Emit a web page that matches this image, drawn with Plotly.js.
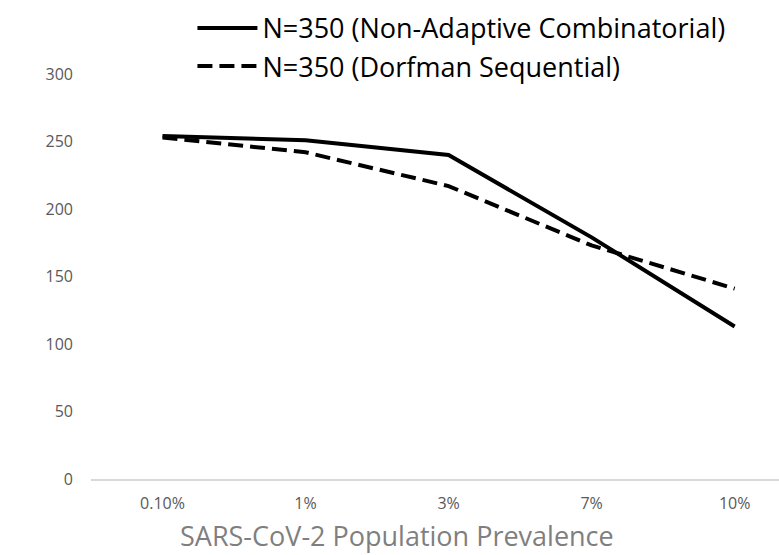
<!DOCTYPE html>
<html>
<head>
<meta charset="utf-8">
<script src="https://cdn.plot.ly/plotly-3.0.1.min.js"></script>
<style>html,body{margin:0;padding:0;background:#fff;}#chart{width:779px;height:555px;}</style>
</head>
<body>
<div id="chart"></div>
<script>
const categories = ["0.10%", "1%", "3%", "7%", "10%"];
const nonAdaptive = [254, 251, 240, 179, 113];
const dorfman = [253, 242, 217, 173, 141];
const seriesNames = ["N=350 (Non-Adaptive Combinatorial)", "N=350 (Dorfman Sequential)"];
const yTicks = [0, 50, 100, 150, 200, 250, 300];
const xTitle = "SARS-CoV-2 Population Prevalence";

const FONT = "'Open Sans', sans-serif";
const traces = [
  {x: categories, y: nonAdaptive, name: seriesNames[0], type: "scatter", mode: "lines",
   line: {color: "#000", width: 4}},
  {x: categories, y: dorfman, name: seriesNames[1], type: "scatter", mode: "lines",
   line: {color: "#000", width: 4, dash: "15px,7px"}}
];
const layout = {
  width: 779, height: 555,
  margin: {l: 90.5, r: 0, t: 74, b: 76, pad: 0, autoexpand: false},
  paper_bgcolor: "#fff", plot_bgcolor: "#fff",
  showlegend: true,
  legend: {x: (192-90.5)/688.5, xref: "paper", y: 0.993, yref: "container", xanchor: "left", yanchor: "top",
           font: {family: FONT, size: 27, color: "#000"}, itemwidth: 60, tracegroupgap: 0,
           bgcolor: "rgba(0,0,0,0)"},
  xaxis: {type: "category", range: [-0.5, 4.31], showgrid: false, zeroline: false,
          showline: true, linecolor: "#d9d9d9", linewidth: 1.5, ticks: "",
          tickfont: {family: FONT, size: 16, color: "#595959"}, ticklabelstandoff: 9,
          fixedrange: true},
  yaxis: {range: [0, 300], tickvals: yTicks, showgrid: false, zeroline: false, showline: false,
          ticks: "", tickfont: {family: FONT, size: 16, color: "#595959"}, ticklabelstandoff: 17,
          fixedrange: true},
  annotations: [{text: xTitle, xref: "paper", yref: "paper", x: (397-90.5)/688.5, y: 0,
                 yshift: -56, xanchor: "center", yanchor: "middle", showarrow: false,
                 font: {family: FONT, size: 27, color: "#7f7f7f"}}]
};
Plotly.newPlot("chart", traces, layout, {displayModeBar: false, staticPlot: true});
</script>
</body>
</html>
